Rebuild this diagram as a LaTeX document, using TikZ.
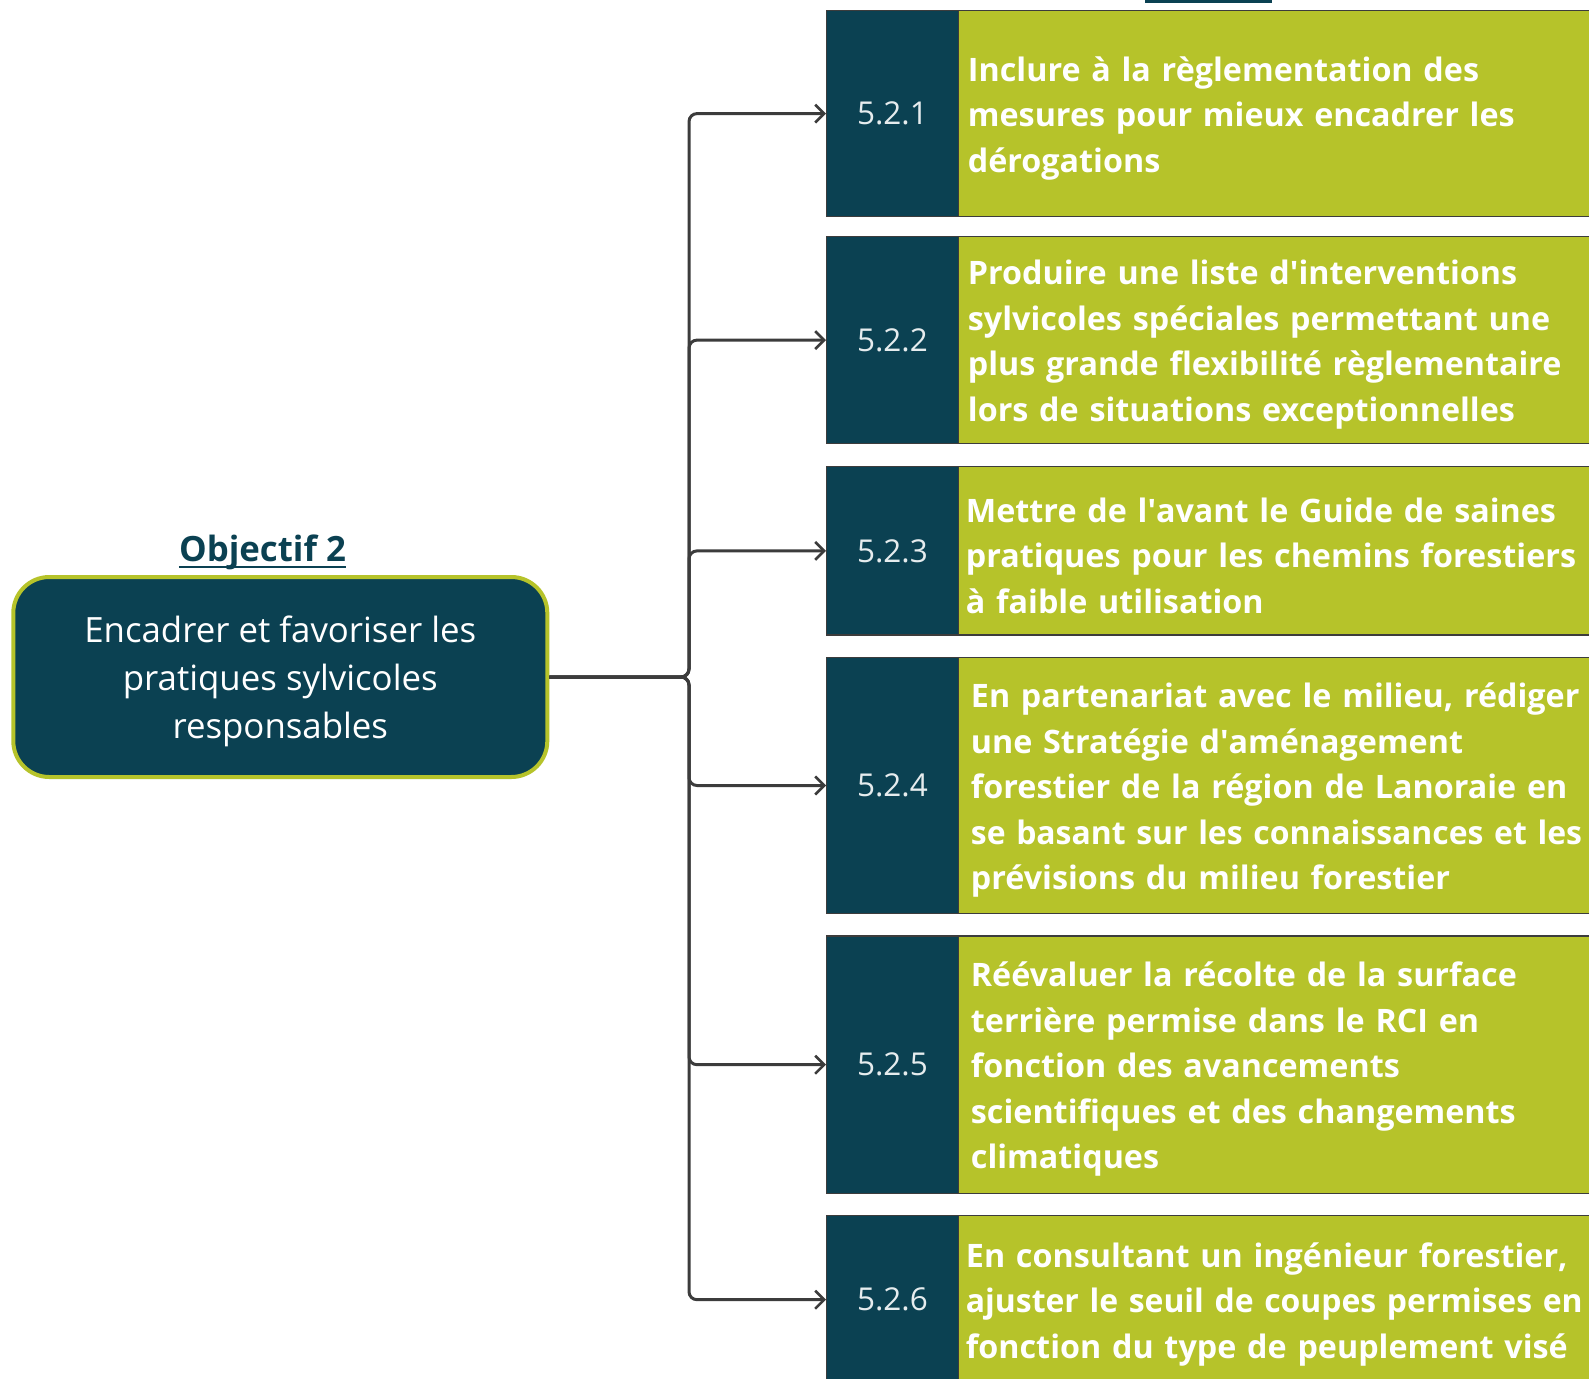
\documentclass[tikz,border=0pt]{standalone}
\usepackage{fontspec}
\usepackage{graphicx}
\setmainfont{Open Sans}
\usetikzlibrary{arrows.meta}
\definecolor{dteal}{HTML}{0B4152}
\definecolor{lime}{HTML}{B6C32A}
\definecolor{conngray}{HTML}{3C3C3C}
\definecolor{numwhite}{HTML}{E6ECEE}
\newcommand{\apos}{\textquotesingle}
\newcommand{\boxfont}{\bfseries\fontsize{32.3}{45.5}\selectfont\spaceskip 0.18em plus 0.05em minus 0.02em\relax}
\newcommand{\tight}[1]{\scalebox{0.988}[1]{#1}}
\begin{document}
\begin{tikzpicture}[x=1pt,y=-1pt,
  numbox/.style={fill=dteal, draw=conngray, line width=1.2pt, minimum width=131.7pt, inner sep=0pt, anchor=north west, text=numwhite, font=\fontsize{31.5}{36}\selectfont},
  greenbox/.style={fill=lime, draw=conngray, line width=1.2pt, minimum width=660pt, inner sep=0pt, anchor=north west},
  boxtxt/.style={text width=640pt, inner sep=0pt, align=left, anchor=west, text=white, font=\boxfont},
  conn/.style={draw=conngray, line width=3pt, rounded corners=8pt},
  arr/.style={-{Straight Barb[length=9pt,width=18pt,line width=2.6pt]}}
]
\useasboundingbox (0,0) rectangle (1589,1378);
\clip (0,0) rectangle (1589,1378);
\fill[white] (0,0) rectangle (1589,1378);

% top underline fragment
\coordinate (ulA) at (1145,2);
\coordinate (ulB) at (1272,2);
\draw[dteal, line width=3pt] (ulA) -- (ulB);

% objective
\node[fill=dteal, draw=lime, line width=4pt, rounded corners=36pt, minimum width=534pt, minimum height=200pt] (obj) at (280.3,677) {};
\node[text=white, align=center, font=\fontsize{34.8}{48}\selectfont, inner sep=0pt] (objtxt) at (280.3,681) {Encadrer et favoriser les\\pratiques sylvicoles\\responsables};
\node[text=dteal, font=\bfseries\fontsize{34.8}{40}\selectfont, inner sep=0pt, anchor=base] (ttl) at (262.5,561.5) {Objectif 2};
\draw[dteal, line width=2.5pt] ([yshift=-5.5pt]ttl.base west) -- ([yshift=-5.5pt]ttl.base east);

% boxes
\node[numbox, minimum height=205.8pt] (n1) at (826,10.1) {5.2.1};
\node[greenbox, minimum height=205.8pt] (t1) at (957.7,10.1) {};
\node[boxtxt] (x1) at ([xshift=10pt,yshift=-4.5pt]t1.west) {Inclure à la règlementation des\\mesures pour mieux encadrer les\\dérogations};

\node[numbox, minimum height=206.8pt] (n2) at (826,236.1) {5.2.2};
\node[greenbox, minimum height=206.8pt] (t2) at (957.7,236.1) {};
\node[boxtxt] (x2) at ([xshift=10pt,yshift=-4.5pt]t2.west) {Produire une liste d\apos interventions\\sylvicoles spéciales permettant une\\plus grande flexibilité règlementaire\\lors de situations exceptionnelles};

\node[numbox, minimum height=168.2pt] (n3) at (826,466.2) {5.2.3};
\node[greenbox, minimum height=168.2pt] (t3) at (957.7,466.2) {};
\node[boxtxt] (x3) at ([xshift=8pt,yshift=-4.5pt]t3.west) {Mettre de l\apos avant le Guide de saines\\pratiques pour les chemins forestiers\\à faible utilisation};

\node[numbox, minimum height=256.4pt] (n4) at (826,656.7) {5.2.4};
\node[greenbox, minimum height=256.4pt] (t4) at (957.7,656.7) {};
\node[boxtxt] (x4) at ([xshift=13pt,yshift=-4.5pt]t4.west) {En partenariat avec le milieu, rédiger\\une Stratégie d\apos aménagement\\forestier de la région de Lanoraie en\\\tight{se basant sur les connaissances et les}\\prévisions du milieu forestier};

\node[numbox, minimum height=257.4pt] (n5) at (826,935.4) {5.2.5};
\node[greenbox, minimum height=257.4pt] (t5) at (957.7,935.4) {};
\node[boxtxt] (x5) at ([xshift=13pt,yshift=-4.5pt]t5.west) {Réévaluer la récolte de la surface\\terrière permise dans le RCI en\\fonction des avancements\\scientifiques et des changements\\climatiques};

\node[numbox, minimum height=168pt] (n6) at (826,1215.1) {5.2.6};
\node[greenbox, minimum height=168pt] (t6) at (957.7,1215.1) {};
\node[boxtxt] (x6) at ([xshift=8pt,yshift=-4.5pt]t6.west) {En consultant un ingénieur forestier,\\\tight{ajuster le seuil de coupes permises en}\\fonction du type de peuplement visé};

% connectors
\coordinate (T) at (689,677);
\foreach \i in {1,...,6}{
  \draw[conn, arr] (obj.east) -- (T) |- (n\i.west);
}
\end{tikzpicture}
\end{document}
